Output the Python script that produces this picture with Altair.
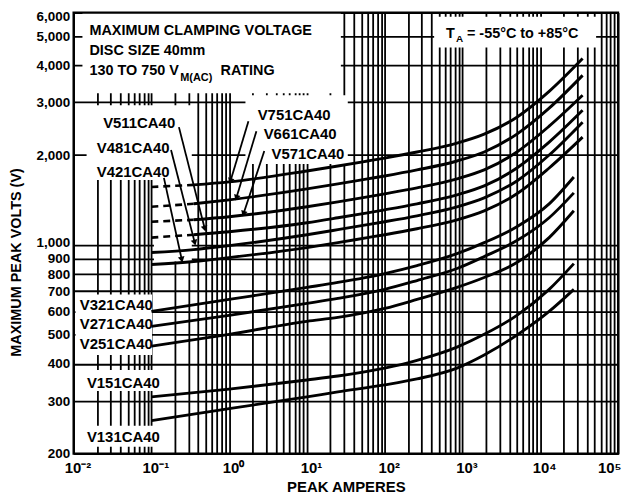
import math
import altair as alt
import pandas as pd

# ---------------- data ----------------
# upper family: peak current (A) and maximum peak volts (V)
I_UPPER = [0.1, 0.35, 1, 10, 25, 60, 100, 260, 850, 1900, 5000, 13000, 35000]
V751CA40 = [1564, 1589, 1626, 1769, 1838, 1910, 1954, 2047, 2193, 2350, 2677, 3268, 4210]
V661CA40 = [1342, 1373, 1416, 1541, 1601, 1664, 1702, 1783, 1910, 2047, 2350, 2870, 3696]
V571CA40 = [1196, 1214, 1243, 1342, 1394, 1449, 1483, 1552, 1664, 1783, 2047, 2498, 3170]
V511CA40 = [1058, 1082, 1107, 1187, 1233, 1281, 1311, 1373, 1471, 1576, 1810, 2210, 2825]
V481CA40 = [943, 965, 995, 1082, 1125, 1169, 1196, 1252, 1342, 1438, 1638, 2000, 2577]
V421CA40 = [860, 880, 907, 980, 1018, 1058, 1082, 1133, 1214, 1301, 1483, 1810, 2296]

# lower family
I_LOWER = [0.1, 1, 10, 25, 100, 260, 850, 1900, 5000, 13000, 27000]
V321CA40 = [599, 657, 721, 749, 802, 853, 935, 1018, 1151, 1373, 1689]
V271CA40 = [534, 581, 637, 662, 710, 760, 834, 914, 1034, 1233, 1494]
V251CA40 = [458, 502, 555, 572, 613, 657, 721, 778, 873, 1058, 1301]
V151CA40 = [310, 329, 353, 364, 387, 411, 455, 502, 581, 710, 866]
V131CA40 = [258, 283, 310, 322, 340, 356, 387, 428, 499, 599, 710]

UPPER = {"V751CA40": V751CA40, "V661CA40": V661CA40, "V571CA40": V571CA40,
         "V511CA40": V511CA40, "V481CA40": V481CA40, "V421CA40": V421CA40}
LOWER = {"V321CA40": V321CA40, "V271CA40": V271CA40, "V251CA40": V251CA40,
         "V151CA40": V151CA40, "V131CA40": V131CA40}
DASHED_LOW_END = ["V751CA40", "V661CA40", "V571CA40", "V511CA40"]
DASH_LIMIT = 0.35

# axis ticks
X_DECADES = [0.01, 0.1, 1, 10, 100, 1000, 10000, 100000]
X_DECADE_LABELS = ["10⁻²", "10⁻¹", "10⁰", "10¹", "10²", "10³", "10⁴", "10⁵"]
Y_TICKS = [200, 300, 400, 500, 600, 700, 800, 900, 1000, 2000, 3000, 4000, 5000, 6000]

# curve labels
LABEL_TEXT = ["V751CA40", "V661CA40", "V571CA40", "V511CA40", "V481CA40", "V421CA40",
              "V321CA40", "V271CA40", "V251CA40", "V151CA40", "V131CA40"]
LABEL_I = [6.84, 8.17, 10.3, 0.0697, 0.0583, 0.0583, 0.0354, 0.0354, 0.0354, 0.0436, 0.0436]
LABEL_V = [2718, 2350, 2016, 2552, 2112, 1756, 628, 542, 465, 345, 228]

# leader arrows (label -> curve)
ARROW_I1 = [1.77, 2.24, 2.83, 0.226, 0.179, 0.145]
ARROW_V1 = [2597, 2404, 2062, 2480, 2078, 1677]
ARROW_I2 = [1.04, 1.24, 1.53, 0.486, 0.361, 0.246]
ARROW_V2 = [1638, 1438, 1272, 1133, 1018, 893]

# white boxes behind the annotations (the grid is interrupted there)
MASK_I1 = [0.013, 1.62, 0.0147, 0.108, 0.0106, 0.0119, 0.0119, 432]
MASK_I2 = [27.3, 33.5, 0.331, 0.331, 0.102, 0.133, 0.133, 52200]
MASK_V1 = [3220, 1867, 1651, 880, 428, 324, 211, 4582]
MASK_V2 = [6000, 3170, 2936, 1651, 683, 381, 248, 5810]

# title block
TITLE_TEXT = ["MAXIMUM CLAMPING VOLTAGE", "DISC SIZE 40mm", "130 TO 750 V", "RATING"]
TITLE_I = [0.016, 0.016, 0.016, 0.776]
TITLE_V = [5220, 4444, 3811, 3811]
SUB_TEXT = ["M(AC)"]
SUB_I = [0.235]
SUB_V = [3612]
TA_TEXT = ["T", "= -55°C to +85°C"]
TA_I = [615, 1140]
TA_V = [5100, 5100]
TA_SUB_TEXT = ["A"]
TA_SUB_I = [826]
TA_SUB_V = [4910]

X_DOMAIN = [0.01, 100000]
Y_DOMAIN = [200, 6000]

# ---------------- tables ----------------
solid_rows, dash_rows = [], []
for name, vals in UPPER.items():
    for i, v in zip(I_UPPER, vals):
        if name in DASHED_LOW_END:
            if i <= DASH_LIMIT:
                dash_rows.append({"series": name, "I": i, "V": v})
            if i >= DASH_LIMIT:
                solid_rows.append({"series": name, "I": i, "V": v})
        else:
            solid_rows.append({"series": name, "I": i, "V": v})
for name, vals in LOWER.items():
    for i, v in zip(I_LOWER, vals):
        solid_rows.append({"series": name, "I": i, "V": v})
solid_df = pd.DataFrame(solid_rows)
dash_df = pd.DataFrame(dash_rows)

W, H = 548, 444
PX_X = W / math.log10(X_DOMAIN[1] / X_DOMAIN[0])
PX_Y = H / math.log10(Y_DOMAIN[1] / Y_DOMAIN[0])

arrow_df = pd.DataFrame({"I": ARROW_I1, "V": ARROW_V1, "I2": ARROW_I2, "V2": ARROW_V2})
arrow_df["ang"] = [
    math.degrees(math.atan2((math.log10(b) - math.log10(a)) * PX_X,
                            (math.log10(d) - math.log10(c)) * PX_Y)) % 360
    for a, b, c, d in zip(ARROW_I1, ARROW_I2, ARROW_V1, ARROW_V2)
]
head_df = pd.DataFrame({"I": ARROW_I2, "V": ARROW_V2, "ang": arrow_df["ang"]})

mask_df = pd.DataFrame({"I": MASK_I1, "I2": MASK_I2, "V": MASK_V1, "V2": MASK_V2})
border_df = pd.DataFrame({"I": [X_DOMAIN[0]], "I2": [X_DOMAIN[1]],
                          "V": [Y_DOMAIN[0]], "V2": [Y_DOMAIN[1]]})
label_df = pd.DataFrame({"I": LABEL_I, "V": LABEL_V, "t": LABEL_TEXT})
title_df = pd.DataFrame({"I": TITLE_I, "V": TITLE_V, "t": TITLE_TEXT})
sub_df = pd.DataFrame({"I": SUB_I, "V": SUB_V, "t": SUB_TEXT})
ta_df = pd.DataFrame({"I": TA_I, "V": TA_V, "t": TA_TEXT})
ta_sub_df = pd.DataFrame({"I": TA_SUB_I, "V": TA_SUB_V, "t": TA_SUB_TEXT})

# ---------------- chart ----------------
FONT = "Liberation Sans"
xs = alt.Scale(type="log", domain=X_DOMAIN, nice=False)
ys = alt.Scale(type="log", domain=Y_DOMAIN, nice=False)

x_minor = [m * d for d in X_DECADES[:-1] for m in range(1, 10)] + [X_DECADES[-1]]
label_expr = " : ".join(f"datum.value == {v} ? '{t}'" for v, t in zip(X_DECADES, X_DECADE_LABELS)) + " : ''"

x_axis = alt.Axis(
    values=x_minor, labelExpr=label_expr, grid=True, gridColor="black", gridWidth=1.8,
    gridOpacity=1, ticks=False, domain=False, labelFont=FONT, labelFontSize=15,
    labelFontWeight="bold", labelColor="black", labelPadding=7, labelOverlap=False,
    labelBound=False, labelFlush=False,
    labelAlign={"condition": {"test": "datum.value >= 100000", "value": "right"}, "value": "center"},
    labelOffset={"condition": {"test": "datum.value >= 100000", "value": 3}, "value": 4},
    titleFont=FONT, titleFontSize=15, titleFontWeight="bold",
    titleColor="black", titleY=33, titleBaseline="middle",
)
y_axis = alt.Axis(
    values=Y_TICKS, format=",d", grid=True, gridColor="black", gridWidth=1.8, gridOpacity=1,
    ticks=False, domain=False, labelFont=FONT, labelFontSize=13.5, labelFontWeight="bold",
    labelColor="black", labelPadding=4, labelOverlap=False, labelBound=False, labelFlush=False,
    labelOffset={"condition": [{"test": "datum.value >= 6000", "value": 4},
                               {"test": "datum.value == 1000", "value": -2},
                               {"test": "datum.value == 800", "value": 1}], "value": 0},
    titleFont=FONT, titleFontSize=14.5, titleFontWeight="bold",
    titleColor="black", titleAngle=270, titleX=-57, titleY=251, titleAlign="center",
    titleBaseline="middle",
)
X_TITLE = "PEAK AMPERES"
Y_TITLE = "MAXIMUM PEAK VOLTS (V)"


def X(f="I"):
    return alt.X(f"{f}:Q", scale=xs, axis=x_axis, title=X_TITLE)


def Y(f="V"):
    return alt.Y(f"{f}:Q", scale=ys, axis=y_axis, title=Y_TITLE)


masks = alt.Chart(mask_df).mark_rect(fill="white", strokeWidth=0).encode(
    x=X(), x2="I2:Q", y=Y(), y2="V2:Q")

solid = alt.Chart(solid_df).mark_line(color="black", strokeWidth=2.9, interpolate="monotone").encode(
    x=X(), y=Y(), detail="series:N")
dashed = alt.Chart(dash_df).mark_line(color="black", strokeWidth=2.6, strokeDash=[7, 5]).encode(
    x=X(), y=Y(), detail="series:N")

arrows = alt.Chart(arrow_df).mark_rule(color="black", strokeWidth=1.8).encode(
    x=X(), x2="I2:Q", y=Y(), y2="V2:Q")
heads = alt.Chart(head_df).mark_point(shape="triangle-up", filled=True, color="black",
                                      size=45, opacity=1).encode(
    x=X(), y=Y(), angle=alt.Angle("ang:Q", scale=None))

labels = alt.Chart(label_df).mark_text(font=FONT, fontSize=15, fontWeight="bold", color="black",
                                       align="center", baseline="middle").encode(
    x=X(), y=Y(), text="t:N")
title = alt.Chart(title_df).mark_text(font=FONT, fontSize=14.5, fontWeight="bold", color="black",
                                      align="left", baseline="middle").encode(
    x=X(), y=Y(), text="t:N")
sub = alt.Chart(sub_df).mark_text(font=FONT, fontSize=11, fontWeight="bold", color="black",
                                  align="left", baseline="middle").encode(
    x=X(), y=Y(), text="t:N")
ta = alt.Chart(ta_df).mark_text(font=FONT, fontSize=14.5, fontWeight="bold", color="black",
                                align="left", baseline="middle").encode(
    x=X(), y=Y(), text="t:N")
ta_sub = alt.Chart(ta_sub_df).mark_text(font=FONT, fontSize=10, fontWeight="bold", color="black",
                                        align="left", baseline="middle").encode(
    x=X(), y=Y(), text="t:N")

border = alt.Chart(border_df).mark_rect(fill="transparent", stroke="black", strokeWidth=2.2).encode(
    x=X(), x2="I2:Q", y=Y(), y2="V2:Q")

chart = alt.layer(masks, dashed, solid, arrows, heads, labels, title, sub, ta, ta_sub, border).properties(
    width=W, height=H,
    autosize=alt.AutoSizeParams(type="none"),
    padding={"left": 66, "top": 3, "right": 12, "bottom": 39},
    background="white",
).configure_view(stroke=None)

chart.save("out.html", embed_options={"renderer": "svg", "actions": False})
